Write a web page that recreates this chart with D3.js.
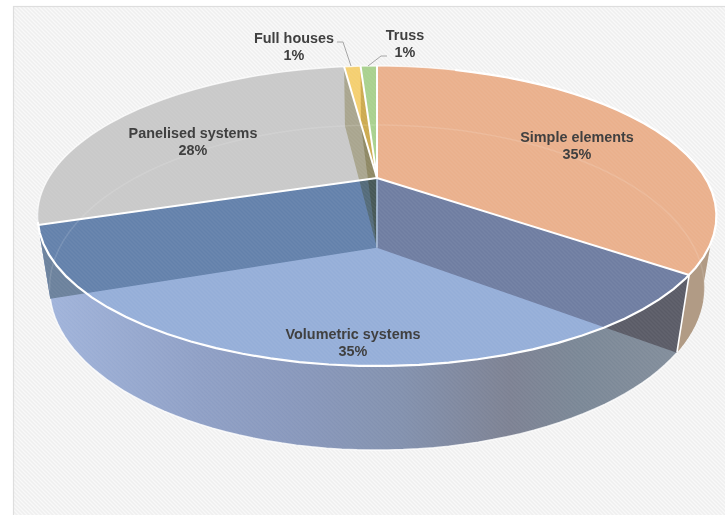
<!DOCTYPE html>
<html><head><meta charset="utf-8"><script src="https://cdn.jsdelivr.net/npm/d3@7"></script>
<style>html,body{margin:0;padding:0;background:#fff}svg{display:block}text{font-family:"Liberation Sans",Arial,sans-serif;font-weight:700;font-size:14.4px;fill:#404040}</style></head>
<body><svg id="c" width="725" height="515"></svg>
<script>
const categories=["Simple elements","Volumetric systems","Panelised systems","Full houses","Truss"];
const values=[35,35,28,1,1];
const percentLabels=["35%","35%","28%","1%","1%"];
const topColors=["#eab08c","#95aed8","#c9c9c9","#f4cf70","#a9d18e"];
const labelPos=[[577,137],[353,334],[193,133],[294,38],[405,35]];

const svg=d3.select("#c");
const defs=svg.append("defs");
const diag="M-1,-1L5,5M-1,3L1,5M3,-1L5,1";
const hatch=defs.append("pattern").attr("id","hatch").attr("width",4).attr("height",4).attr("patternUnits","userSpaceOnUse");
hatch.append("rect").attr("width",4).attr("height",4).attr("fill","#efefef");
hatch.append("path").attr("d",diag).attr("stroke","#f9f9f9").attr("stroke-width",1.3);
const sheen=defs.append("pattern").attr("id","sheen").attr("width",4).attr("height",4).attr("patternUnits","userSpaceOnUse");
sheen.append("path").attr("d",diag).attr("stroke","#fff").attr("stroke-opacity",.05).attr("stroke-width",1.3);
const wallGrad=defs.append("linearGradient").attr("id","wall").attr("gradientUnits","userSpaceOnUse").attr("x1",50).attr("x2",680).attr("y1",0).attr("y2",0);
[[0,"#a0b3da"],[.24,"#8e9fc5"],[.38,"#8898bc"],[.56,"#8290ad"],[.73,"#7c8192"],[.84,"#7a8796"],[1,"#828d9b"]].forEach(s=>wallGrad.append("stop").attr("offset",s[0]).attr("stop-color",s[1]));

// perspective disc projection
const k=.2533,A=328.4,B=140.4,X0=377,Y0=178,Q=.0345,VX=375,VY=2270;
const proj=(x,y)=>{const w=1+k*y;return [X0+A*x/w,Y0-B*y/w,w];};
const rimTop=(t,r=1)=>{const p=proj(r*Math.sin(t),r*Math.cos(t));return [p[0],p[1]];};
const rimBot=(t,r=1)=>{const p=proj(r*Math.sin(t),r*Math.cos(t));const s=p[2]/(p[2]+Q);return [VX+s*(p[0]-VX),VY+s*(p[1]-VY)];};
const pie=d3.pie().sort(null).value(d=>d)(values);
const arc=(f,a,b)=>d3.range(0,61).map(i=>f(a+(b-a)*i/60));
const line=d3.line();
const poly=p=>line(p)+"Z";
const sector=(a,b)=>poly([rimTop(0,0),...arc(rimTop,a,b)]);
const radialWall=t=>poly([rimTop(0,0),rimTop(t),rimBot(t),rimBot(0,0)]);

// panel
svg.append("rect").attr("x",13.5).attr("y",6.5).attr("width",720).attr("height",520).attr("fill","url(#hatch)").attr("stroke","#dedede").attr("stroke-width",1.2);

const [s0,s1,s2,s3,s4]=pie;
// outer walls
const frontWall=(a,b)=>poly([...arc(rimTop,a,b),...arc(rimBot,a,b).reverse()]);
const silhouette=[rimTop(s0.startAngle+2),...arc(rimBot,s0.startAngle+1.78,s0.endAngle),rimTop(s0.endAngle)];
svg.append("path").attr("d",poly(silhouette)).attr("fill","#b19b85");
svg.append("path").attr("d",frontWall(s1.startAngle,s1.endAngle)).attr("fill","url(#wall)");
svg.append("path").attr("d",frontWall(s2.startAngle,s2.startAngle+.12)).attr("fill","#8fa0c4");
// soft lower edge
svg.append("path").attr("d",line(arc(rimBot,s0.endAngle,s1.endAngle))).attr("fill","none").attr("stroke","#fff").attr("stroke-width",1.5).attr("stroke-opacity",.8);

// radial walls seen beyond the rim
svg.append("path").attr("d",radialWall(s1.startAngle)).attr("fill","#5a5b66");
svg.append("path").attr("d",radialWall(s1.endAngle)).attr("fill","#6b819c");

// top faces
pie.forEach((s,i)=>svg.append("path").attr("d",sector(s.startAngle,s.endAngle)).attr("fill",topColors[i]));

// radial walls seen through the top of the volumetric slice
defs.append("clipPath").attr("id","volTop").append("path").attr("d",sector(s1.startAngle,s1.endAngle));
const inner=svg.append("g").attr("clip-path","url(#volTop)");
inner.append("path").attr("d",radialWall(s1.startAngle)).attr("fill","#6f7da1");
inner.append("path").attr("d",radialWall(s1.endAngle)).attr("fill","#6381ab");

// back radial walls seen through the small slices
[s2.endAngle,s3.endAngle].forEach(t=>svg.append("path").attr("d",radialWall(t)).attr("fill","#d6d2b4").style("mix-blend-mode","multiply"));

// faint back rim of the base
svg.append("path").attr("d",line(arc(rimBot,s1.endAngle+.05,2*Math.PI+s0.startAngle+1.9))).attr("fill","none").attr("stroke","#fff").attr("stroke-opacity",.12).attr("stroke-width",1.5);

// texture
svg.append("path").attr("d",poly([...arc(rimTop,0,2*Math.PI)])).attr("fill","url(#sheen)");
svg.append("path").attr("d",frontWall(s0.endAngle,s1.endAngle)).attr("fill","url(#sheen)");

// white borders
svg.append("path").attr("d",line([rimTop(0,0),rimBot(0,0)])).attr("stroke","#b4c7e4").attr("stroke-width",1.5).attr("fill","none");
pie.forEach(s=>svg.append("path").attr("d",line([rimTop(s.startAngle),rimTop(0,0)])).attr("stroke","#fff").attr("stroke-width",2).attr("fill","none"));
svg.append("path").attr("d",line(arc(rimTop,s0.startAngle+.3,s1.endAngle+.02))).attr("stroke","#fff").attr("stroke-width",2.2).attr("fill","none");
svg.append("path").attr("d",line(arc(rimTop,s1.endAngle,2*Math.PI+.3))).attr("stroke","#fff").attr("stroke-opacity",.75).attr("stroke-width",1.4).attr("fill","none");
svg.append("path").attr("d",line([rimTop(s0.endAngle),rimBot(s0.endAngle)])).attr("stroke","#fff").attr("stroke-width",1.6).attr("fill","none");

// leader lines
const leaders=[[[337,42],[343,42],[351,66]],[[387,56],[381,56],[368,66]]];
leaders.forEach(l=>svg.append("path").attr("d",line(l)).attr("fill","none").attr("stroke","#a6a6a6").attr("stroke-width",1));

// labels
categories.forEach((c,i)=>{
  const t=svg.append("text").attr("text-anchor","middle").attr("y",labelPos[i][1]+5);
  t.append("tspan").attr("x",labelPos[i][0]).text(c);
  t.append("tspan").attr("x",labelPos[i][0]).attr("dy",17).text(percentLabels[i]);
});
</script></body></html>
